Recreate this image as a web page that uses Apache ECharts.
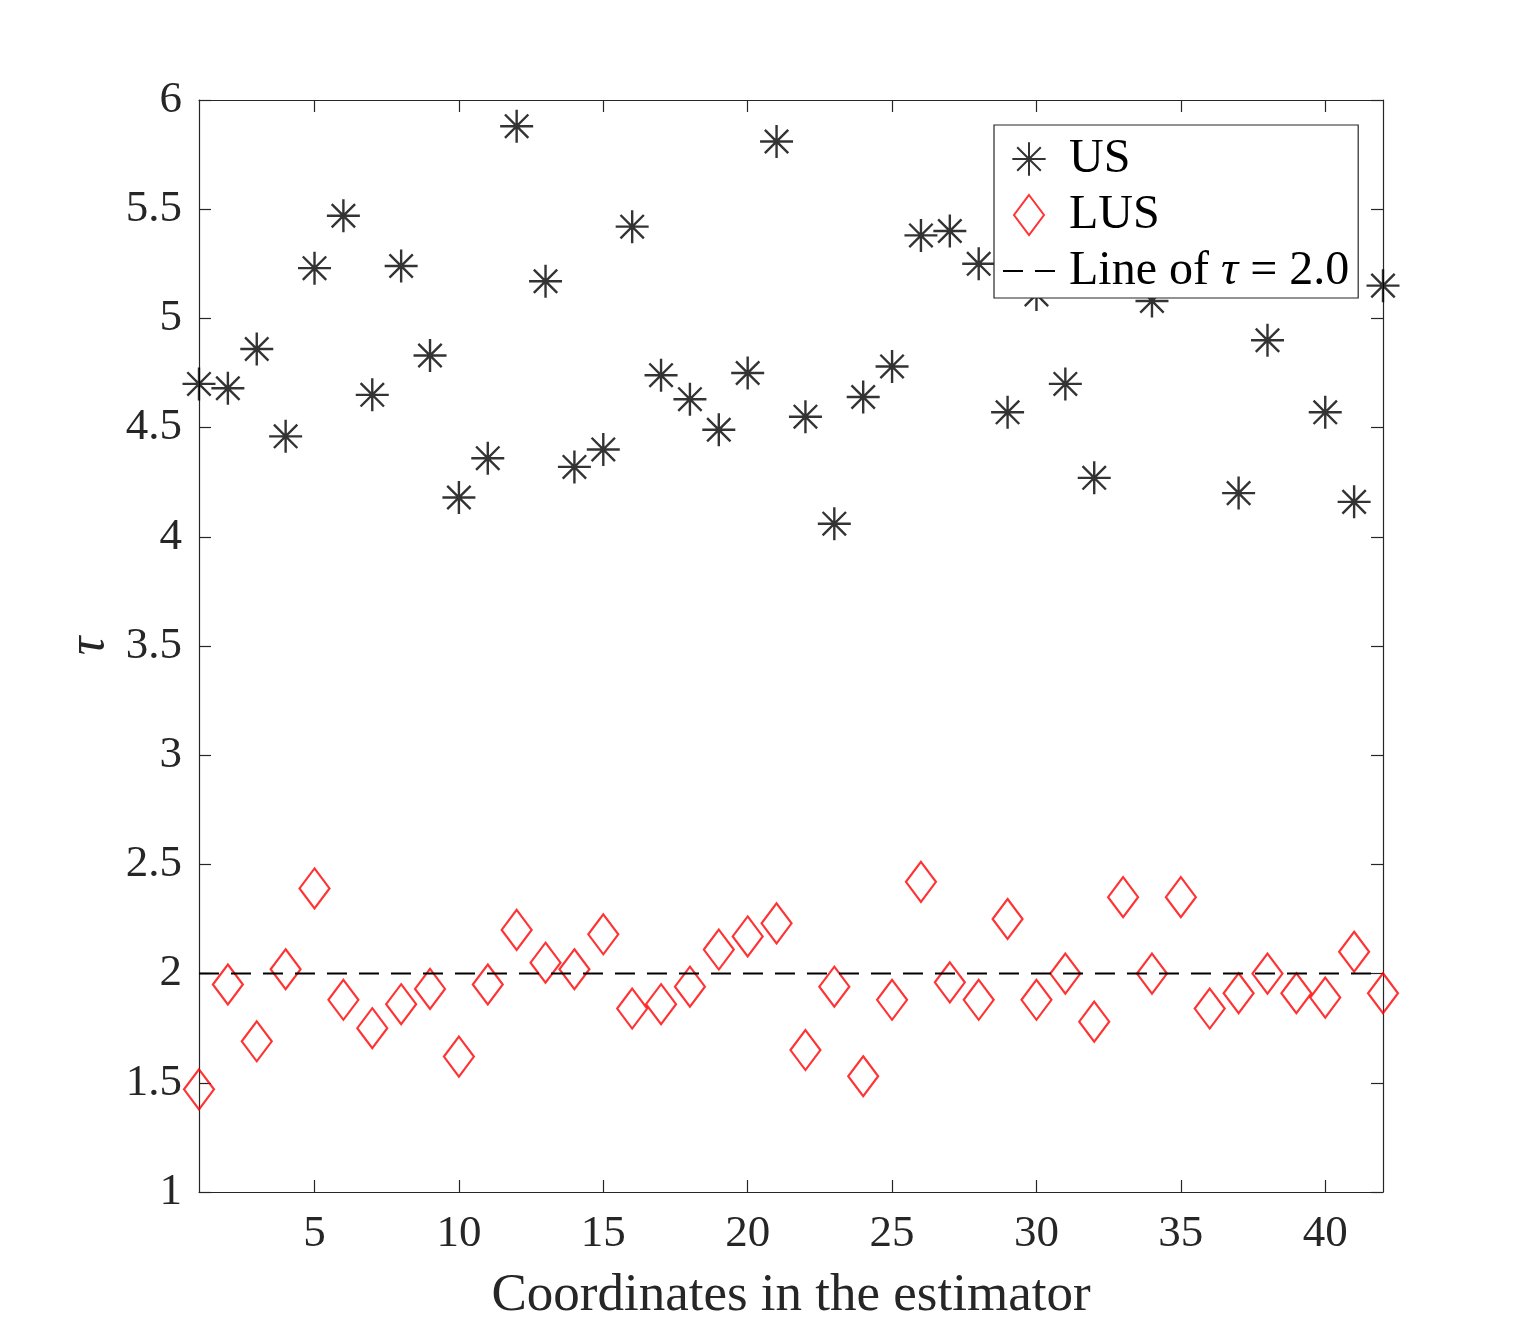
<!DOCTYPE html>
<html>
<head>
<meta charset="utf-8">
<title>US vs LUS</title>
<script src="https://cdn.jsdelivr.net/npm/echarts@6/dist/echarts.min.js"></script>
<style>
  html, body { margin: 0; padding: 0; background: #fff; }
  #chart { width: 1528px; height: 1340px; }
</style>
</head>
<body>
<div id="chart"></div>
<script>
// coordinates 1..42
const coords = [1, 2, 3, 4, 5, 6, 7, 8, 9, 10, 11, 12, 13, 14, 15, 16, 17, 18, 19, 20, 21,
  22, 23, 24, 25, 26, 27, 28, 29, 30, 31, 32, 33, 34, 35, 36, 37, 38, 39, 40, 41, 42];

const usValues = [4.70, 4.68, 4.86, 4.46, 5.23, 5.47, 4.65, 5.24, 4.83, 4.18, 4.36, 5.88,
  5.17, 4.32, 4.40, 5.42, 4.74, 4.63, 4.49, 4.75, 5.81, 4.55, 4.06, 4.64, 4.78, 5.38,
  5.40, 5.25, 4.57, 5.11, 4.70, 4.27, 5.32, 5.08, 5.58, 5.46, 4.20, 4.90, 5.28, 4.57,
  4.16, 5.15];

const lusValues = [1.47, 1.95, 1.69, 2.02, 2.39, 1.88, 1.75, 1.86, 1.93, 1.62, 1.95, 2.20,
  2.05, 2.02, 2.18, 1.84, 1.86, 1.94, 2.11, 2.17, 2.23, 1.65, 1.94, 1.53, 1.88, 2.42,
  1.96, 1.88, 2.25, 1.88, 2.00, 1.78, 2.35, 2.00, 2.35, 1.84, 1.91, 2.00, 1.91, 1.89,
  2.10, 1.91];

const refLineX = [1, 42];
const refLineY = [2.0, 2.0];

const xTicks = [5, 10, 15, 20, 25, 30, 35, 40];

const FONT = '"Liberation Serif", "Times New Roman", serif';
const AX = '#262626';

const starPath = 'path://M50 0L50 100M0 50L100 50M14.6 14.6L85.4 85.4M14.6 85.4L85.4 14.6';
// padded copies for the legend so the icons keep their size
const starLegend = 'path://M50 -10M50 110M50 0L50 100M0 50L100 50M14.6 14.6L85.4 85.4M14.6 85.4L85.4 14.6';
const dashLegend = 'path://M0 -10M0 10M0 0L20 0M32 0L52 0';
const diamondPath = 'path://M15 0L30 20L15 40L0 20Z';

const chart = echarts.init(document.getElementById('chart'));

const boxAxis = (extra) => Object.assign({
  type: 'value',
  axisLine: { show: true, onZero: false, lineStyle: { color: AX, width: 1.2 } },
  axisTick: { show: true, inside: true, length: 12, lineStyle: { color: AX, width: 1.2 } },
  axisLabel: { show: false },
  splitLine: { show: false }
}, extra);

chart.setOption({
  animation: false,
  backgroundColor: '#fff',
  grid: { left: 199, top: 100, right: 145, bottom: 148 },
  xAxis: [
    boxAxis({
      position: 'bottom',
      min: 1, max: 42,
      name: 'Coordinates in the estimator',
      nameLocation: 'middle',
      nameGap: 78,
      nameTextStyle: { fontFamily: FONT, fontSize: 53, color: AX },
      axisTick: { show: true, inside: true, length: 12, customValues: xTicks, lineStyle: { color: AX, width: 1.2 } },
      axisLabel: { show: true, customValues: xTicks, margin: 20, fontFamily: FONT, fontSize: 45, color: AX }
    }),
    boxAxis({
      position: 'top',
      min: 1, max: 42,
      axisTick: { show: true, inside: true, length: 12, customValues: xTicks, lineStyle: { color: AX, width: 1.2 } }
    })
  ],
  yAxis: [
    boxAxis({
      position: 'left',
      min: 1, max: 6, interval: 0.5,
      name: 'τ',
      nameLocation: 'middle',
      nameRotate: 90,
      nameGap: 77,
      nameTextStyle: { fontFamily: FONT, fontSize: 52, fontStyle: 'italic', color: AX },
      axisLabel: { show: true, margin: 17, fontFamily: FONT, fontSize: 45, color: AX }
    }),
    boxAxis({
      position: 'right',
      min: 1, max: 6, interval: 0.5
    })
  ],
  legend: {
    left: 994,
    top: 125,
    orient: 'vertical',
    selectedMode: false,
    backgroundColor: '#fff',
    borderColor: AX,
    borderWidth: 1.2,
    borderRadius: 0,
    padding: [10, 9, 3, 8],
    itemGap: 8,
    itemWidth: 52,
    itemHeight: 40,
    textStyle: {
      fontFamily: FONT, fontSize: 48, color: '#000', padding: [0, 0, 0, 9],
      rich: { i: { fontFamily: FONT, fontSize: 48, fontStyle: 'italic', color: '#000' } }
    },
    formatter: (name) => name === 'Line of τ = 2.0' ? 'Line of {i|τ} = 2.0' : name,
    data: [
      { name: 'US', icon: starLegend },
      { name: 'LUS', icon: diamondPath },
      {
        name: 'Line of τ = 2.0',
        icon: dashLegend,
        itemStyle: { color: 'transparent', borderColor: '#000', borderWidth: 2 }
      }
    ]
  },
  series: [
    {
      name: 'US',
      type: 'scatter',
      data: coords.map((x, i) => [x, usValues[i]]),
      symbol: starPath,
      symbolSize: 33,
      itemStyle: { color: 'transparent', borderColor: '#000', borderWidth: 2.4 }
    },
    {
      name: 'LUS',
      type: 'scatter',
      data: coords.map((x, i) => [x, lusValues[i]]),
      symbol: diamondPath,
      symbolSize: [30, 40],
      itemStyle: { color: 'transparent', borderColor: '#ff0000', borderWidth: 2.2 }
    },
    {
      name: 'Line of τ = 2.0',
      type: 'line',
      data: refLineX.map((x, i) => [x, refLineY[i]]),
      symbol: 'none',
      lineStyle: { color: '#000', width: 2, type: [20, 12] },
      itemStyle: { color: '#000' }
    }
  ]
});
</script>
</body>
</html>
